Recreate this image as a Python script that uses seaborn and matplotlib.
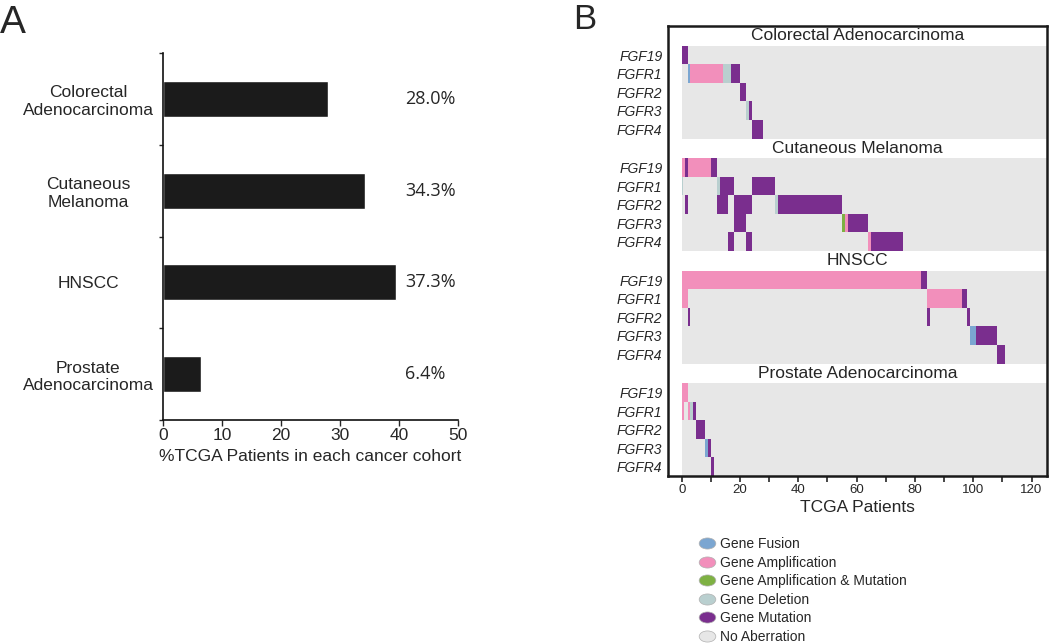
"""
Panel A: share of TCGA patients with FGF/FGFR aberrations per cohort.
Panel B: per-patient aberration map for FGF19 / FGFR1-4.
"""

import matplotlib
matplotlib.use("Agg")
import matplotlib.pyplot as plt
import matplotlib.transforms as mtransforms
from matplotlib.lines import Line2D
from matplotlib.path import Path
import numpy as np
import pandas as pd
import seaborn as sns

# ---- panel A data
cohorts_a = ["Colorectal\nAdenocarcinoma", "Cutaneous\nMelanoma", "HNSCC", "Prostate\nAdenocarcinoma"]
bar_values = [28.0, 34.3, 39.5, 6.4]
pct_labels = ["28.0%", "34.3%", "37.3%", "6.4%"]

# ---- panel B data: (gene, first patient, last patient + 1, aberration)
genes = ["FGF19", "FGFR1", "FGFR2", "FGFR3", "FGFR4"]
cohort_titles = ["Colorectal Adenocarcinoma", "Cutaneous Melanoma", "HNSCC", "Prostate Adenocarcinoma"]

colorectal_segs = [
    ("FGF19", 0, 2, "mut"),
    ("FGFR1", 2, 3, "fusion"), ("FGFR1", 3, 14, "amp"), ("FGFR1", 14, 17, "del"), ("FGFR1", 17, 20, "mut"),
    ("FGFR2", 20, 22, "mut"),
    ("FGFR3", 22, 23, "del"), ("FGFR3", 23, 24, "mut"),
    ("FGFR4", 24, 28, "mut"),
]
melanoma_segs = [
    ("FGF19", 0, 1, "amp"), ("FGF19", 1, 2, "mut"), ("FGF19", 2, 10, "amp"), ("FGF19", 10, 12, "mut"),
    ("FGFR1", 0, 0.6, "del"), ("FGFR1", 12, 13, "del"), ("FGFR1", 13, 18, "mut"), ("FGFR1", 24, 32, "mut"),
    ("FGFR2", 1, 2, "mut"), ("FGFR2", 12, 16, "mut"), ("FGFR2", 18, 24, "mut"),
    ("FGFR2", 32, 33, "del"), ("FGFR2", 33, 55, "mut"),
    ("FGFR3", 18, 22, "mut"), ("FGFR3", 55, 56, "ampmut"), ("FGFR3", 56, 57, "amp"), ("FGFR3", 57, 64, "mut"),
    ("FGFR4", 16, 18, "mut"), ("FGFR4", 22, 24, "mut"), ("FGFR4", 64, 65, "amp"), ("FGFR4", 65, 76, "mut"),
]
hnscc_segs = [
    ("FGF19", 0, 82, "amp"), ("FGF19", 82, 84, "mut"),
    ("FGFR1", 0, 2, "amp"), ("FGFR1", 84, 96, "amp"), ("FGFR1", 96, 98, "mut"),
    ("FGFR2", 2, 3, "mut"), ("FGFR2", 84, 85, "mut"), ("FGFR2", 98, 99, "mut"),
    ("FGFR3", 99, 101, "fusion"), ("FGFR3", 101, 108, "mut"),
    ("FGFR4", 108, 111, "mut"),
]
prostate_segs = [
    ("FGF19", 0, 2, "amp"),
    ("FGFR1", 0, 0.8, "amp"), ("FGFR1", 2, 3, "amp"), ("FGFR1", 3, 4, "del"), ("FGFR1", 4, 5, "mut"),
    ("FGFR2", 5, 8, "mut"),
    ("FGFR3", 8, 9, "fusion"), ("FGFR3", 9, 10, "mut"),
    ("FGFR4", 10, 11, "mut"),
]
cohort_segs = [colorectal_segs, melanoma_segs, hnscc_segs, prostate_segs]

legend_labels = ["Gene Fusion", "Gene Amplification", "Gene Amplification & Mutation",
                 "Gene Deletion", "Gene Mutation", "No Aberration"]
palette = {
    "fusion": "#7ba6d1",
    "amp": "#f28fbb",
    "ampmut": "#7eb143",
    "del": "#b9cfcf",
    "mut": "#7a2e8e",
    "none": "#e7e7e7",
}

sns.set_theme(style="white")
plt.rcParams["font.family"] = ["Liberation Sans", "DejaVu Sans"]

fig = plt.figure(figsize=(10.5, 6.43), dpi=100)
W, H = 1050, 643


def fig_rect(x0, y0, x1, y1):
    return [x0 / W, 1 - y1 / H, (x1 - x0) / W, (y1 - y0) / H]


# ================= Panel A
axA = fig.add_axes(fig_rect(163, 53, 458, 420))
df_a = pd.DataFrame({"cohort": cohorts_a, "pct": bar_values})
sns.barplot(data=df_a, x="pct", y="cohort", orient="h", color="#1b1b1b",
            saturation=1, width=0.39, ax=axA)
axA.set_xlim(0, 50)
axA.set_ylim(3.5, -0.5)
axA.set_xticks(np.arange(0, 51, 10))
axA.set_yticks(range(len(cohorts_a)))
axA.set_yticklabels(cohorts_a, ha="center", multialignment="center", fontsize=12.5)
axA.set_yticks(np.arange(-0.5, len(cohorts_a)), minor=True)
axA.tick_params(axis="y", which="major", length=0, pad=54)
axA.tick_params(axis="y", which="minor", length=3, width=1, direction="out", left=True)
axA.tick_params(axis="x", length=4, width=1, direction="out", bottom=True, labelsize=12.5, pad=2)
for side in ["top", "right"]:
    axA.spines[side].set_visible(False)
for side in ["left", "bottom"]:
    axA.spines[side].set_linewidth(1.2)
    axA.spines[side].set_color("#111111")
axA.set_ylabel("")
axA.set_xlabel("%TCGA Patients in each cancer cohort", fontsize=12.5, labelpad=4)
for i, lab in enumerate(pct_labels):
    axA.text(41, i, lab, ha="left", va="center", fontsize=13, family=["Open Sans", "DejaVu Sans"])

# ================= Panel B
band = 1.08
period = band + len(genes)
x_max = 125.3

axB = fig.add_axes(fig_rect(668, 26, 1047, 476))
axB.set_xlim(-4.7, x_max)
axB.set_ylim(len(cohort_titles) * period, 0)

rows = []
for s, segs in enumerate(cohort_segs):
    for gene, start, stop, kind in segs:
        rows.append({"section": s, "gene": gene, "start": start, "stop": stop, "kind": kind})
df_b = pd.DataFrame(rows)

title_tr = mtransforms.blended_transform_factory(axB.transAxes, axB.transData)
ytick_pos, ytick_lab = [], []
for s, title in enumerate(cohort_titles):
    top = s * period + band
    axB.barh(top, x_max, left=0, height=len(genes), align="edge",
             color=palette["none"], linewidth=0, zorder=0)
    axB.text(0.5, s * period + band / 2, title, transform=title_tr,
             ha="center", va="center", fontsize=12.5)
    for r, g in enumerate(genes):
        ytick_pos.append(top + r + 0.5)
        ytick_lab.append(g)

for _, row in df_b.iterrows():
    y = row["section"] * period + band + genes.index(row["gene"])
    axB.barh(y, row["stop"] - row["start"], left=row["start"], height=1, align="edge",
             color=palette[row["kind"]], linewidth=0, zorder=2)

axB.set_yticks(ytick_pos)
axB.set_yticklabels(ytick_lab, fontsize=10, style="italic")
axB.tick_params(axis="y", length=0, pad=4)
axB.set_xticks(np.arange(0, 121, 10))
axB.set_xticklabels([str(v) if v % 20 == 0 else "" for v in range(0, 121, 10)])
axB.tick_params(axis="x", length=4, width=1.2, direction="out", bottom=True, labelsize=9.5, pad=2)
for side in axB.spines.values():
    side.set_linewidth(1.8)
    side.set_color("#1a1a1a")
axB.set_xlabel("TCGA Patients", fontsize=12.5, labelpad=3)

# legend with oval markers
circ = Path.unit_circle()
oval = Path(circ.vertices * np.array([1.5, 1.0]), circ.codes)
handles = []
for key, lab in zip(["fusion", "amp", "ampmut", "del", "mut", "none"], legend_labels):
    handles.append(Line2D([], [], linestyle="none", marker=oval, markersize=12,
                          markerfacecolor=palette[key], markeredgecolor="#b0b0b0",
                          markeredgewidth=0.5, label=lab))
fig.legend(handles=handles, loc="upper left", bbox_to_anchor=(699 / W, 1 - 537 / H),
           frameon=False, fontsize=10, handlelength=1.2, handletextpad=0.3,
           labelspacing=0.33, borderpad=0, borderaxespad=0)

# panel letters
fig.text(0.0, 1 - 5 / H, "A", fontsize=28, ha="left", va="top")
fig.text(573 / W, 1 - 3 / H, "B", fontsize=25, ha="left", va="top")

fig.savefig("out.png", dpi=100)
